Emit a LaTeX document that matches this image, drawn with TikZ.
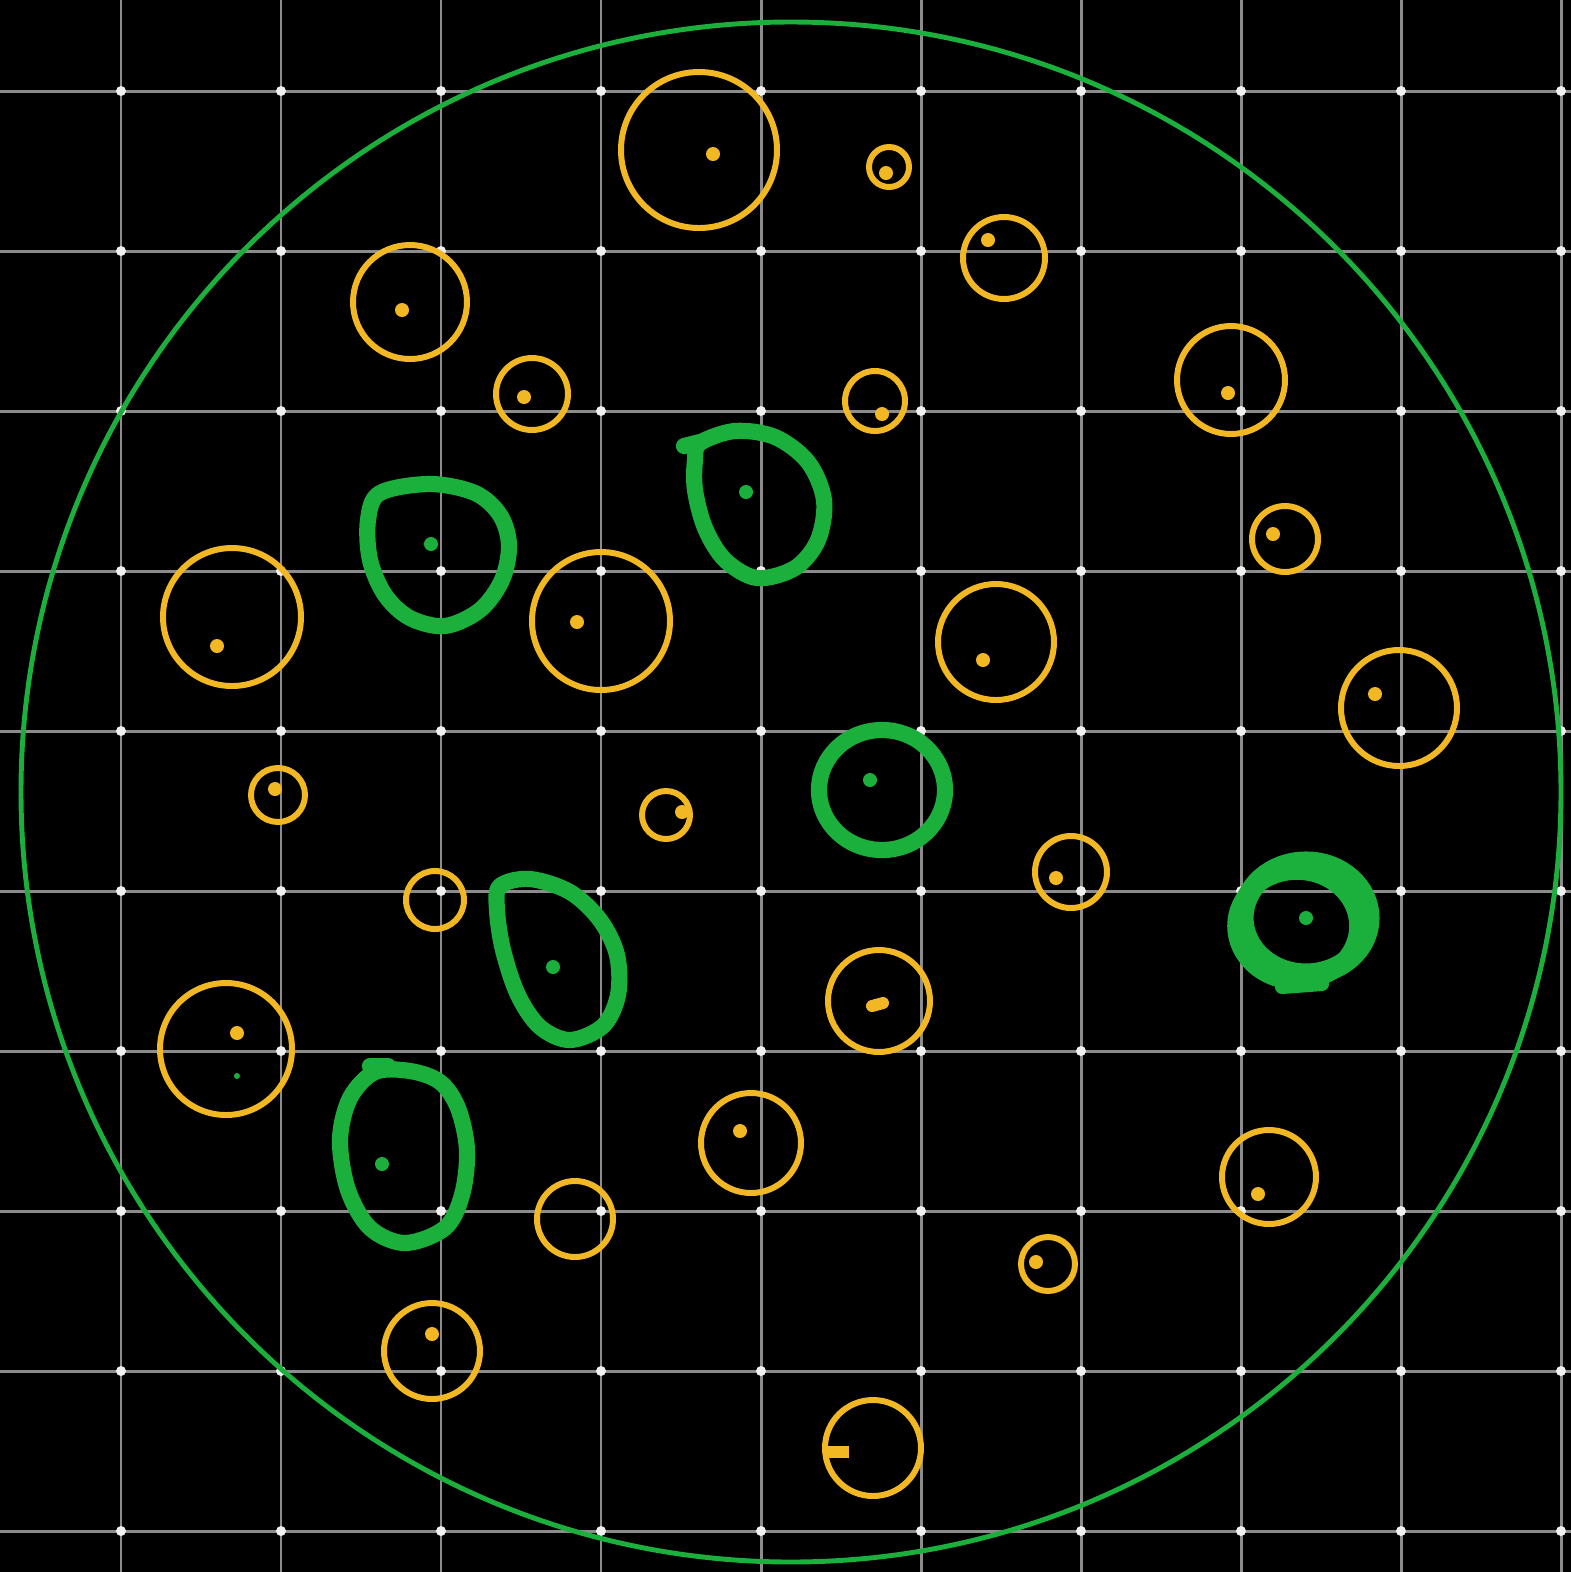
\documentclass[tikz,border=0pt]{standalone}
\definecolor{gold}{HTML}{F2B824}
\definecolor{grn}{HTML}{1BAF3C}
\definecolor{gridc}{HTML}{8C8C8C}
\tikzset{
  ring/.style={draw=gold,line width=1.7pt},
  ydot/.style={fill=gold},
  loop/.style={draw=grn,line width=4.6pt,line cap=round,line join=round},
  gdot/.style={fill=grn},
}
\begin{document}
\begin{tikzpicture}[x=0.01cm,y=0.01cm,yscale=-1]
\fill[black] (0,0) rectangle (1571,1572);
\useasboundingbox (0,0) rectangle (1571,1572);
% grid
\foreach \k in {0,...,9} {
  \draw[gridc,line width=0.85pt] ({121+160*\k},0) -- ({121+160*\k},1572);
  \draw[gridc,line width=0.85pt] (0,{91+160*\k}) -- (1571,{91+160*\k});
}
\foreach \i in {0,...,9} \foreach \j in {0,...,9} {
  \fill[white!88!gray] ({121+160*\i},{91+160*\j}) circle[radius=5];
}
% big circle
\draw[grn,line width=1.4pt] (791,792) circle[radius=770];
% yellow rings
\draw[ring] (699,150) circle[radius=78];  \fill[ydot] (713,154) circle[radius=7];
\draw[ring] (889,167) circle[radius=20];  \fill[ydot] (886,173) circle[radius=7];
\draw[ring] (1004,258) circle[radius=41]; \fill[ydot] (988,240) circle[radius=7];
\draw[ring] (410,302) circle[radius=57];  \fill[ydot] (402,310) circle[radius=7];
\draw[ring] (532,394) circle[radius=36];  \fill[ydot] (524,397) circle[radius=7];
\draw[ring] (875,401) circle[radius=30];  \fill[ydot] (882,414) circle[radius=7];
\draw[ring] (1231,380) circle[radius=54]; \fill[ydot] (1228,393) circle[radius=7];
\draw[ring] (1285,539) circle[radius=33]; \fill[ydot] (1273,534) circle[radius=7];
\draw[ring] (232,617) circle[radius=69];  \fill[ydot] (217,646) circle[radius=7];
\draw[ring] (601,621) circle[radius=69];  \fill[ydot] (577,622) circle[radius=7];
\draw[ring] (996,642) circle[radius=58];  \fill[ydot] (983,660) circle[radius=7];
\draw[ring] (1399,708) circle[radius=58]; \fill[ydot] (1375,694) circle[radius=7];
\draw[ring] (278,795) circle[radius=27];  \fill[ydot] (275,789) circle[radius=7];
\draw[ring] (666,815) circle[radius=24];  \fill[ydot] (682,812) circle[radius=7];
\draw[ring] (1071,872) circle[radius=36]; \fill[ydot] (1056,878) circle[radius=7];
\draw[ring] (435,900) circle[radius=29];
\draw[ring] (879,1001) circle[radius=51];
\draw[gold,line width=3.4pt,line cap=round] (872,1006) -- (883,1003);
\draw[ring] (226,1049) circle[radius=66]; \fill[ydot] (237,1033) circle[radius=7];
\fill[gdot] (237,1076) circle[radius=3];
\draw[ring] (751,1143) circle[radius=50]; \fill[ydot] (740,1131) circle[radius=7];
\draw[ring] (1269,1177) circle[radius=47]; \fill[ydot] (1258,1194) circle[radius=7];
\draw[ring] (575,1219) circle[radius=38];
\draw[ring] (1048,1264) circle[radius=27]; \fill[ydot] (1036,1262) circle[radius=7];
\draw[ring] (432,1351) circle[radius=48]; \fill[ydot] (432,1334) circle[radius=7];
\draw[ring] (873,1448) circle[radius=48];
\draw[gold,line width=3.2pt] (826,1452) -- (849,1452);
% green loops
\draw[loop] plot[smooth cycle,tension=0.55] coordinates {(380,493) (430,484) (475,493) (500,515) (509,545) (502,580) (480,610) (445,626) (410,618) (385,595) (370,560) (368,520)};
\fill[gdot] (431,544) circle[radius=7];
\draw[loop] plot[smooth cycle,tension=0.55] coordinates {(700,443) (735,431) (775,437) (808,462) (824,500) (818,540) (795,568) (757,578) (725,560) (705,528) (695,490) (695,460)};
\draw[loop] (684,446) -- (700,442);
\fill[gdot] (746,492) circle[radius=7];
\draw[loop] (882,790) ellipse[x radius=63, y radius=60];
\fill[gdot] (870,780) circle[radius=7];
\draw[loop] plot[smooth cycle,tension=0.55] coordinates {(500,886) (530,879) (570,892) (600,920) (617,955) (618,995) (603,1026) (570,1040) (540,1027) (518,995) (503,950) (497,910)};
\fill[gdot] (553,967) circle[radius=7];
\draw[loop,line width=6pt] (1306,918) ellipse[x radius=63, y radius=56];
\draw[loop,line width=5pt] (1297,926) ellipse[x radius=61, y radius=55];
\draw[loop,line width=4pt] (1282,987) -- (1322,984);
\fill[gdot] (1306,918) circle[radius=7];
\draw[loop] plot[smooth cycle,tension=0.55] coordinates {(375,1072) (410,1071) (440,1082) (458,1108) (467,1150) (462,1195) (445,1228) (405,1243) (370,1228) (348,1190) (340,1140) (350,1098)};
\draw[loop] (370,1066) -- (388,1066);
\fill[gdot] (382,1164) circle[radius=7];
\end{tikzpicture}
\end{document}
